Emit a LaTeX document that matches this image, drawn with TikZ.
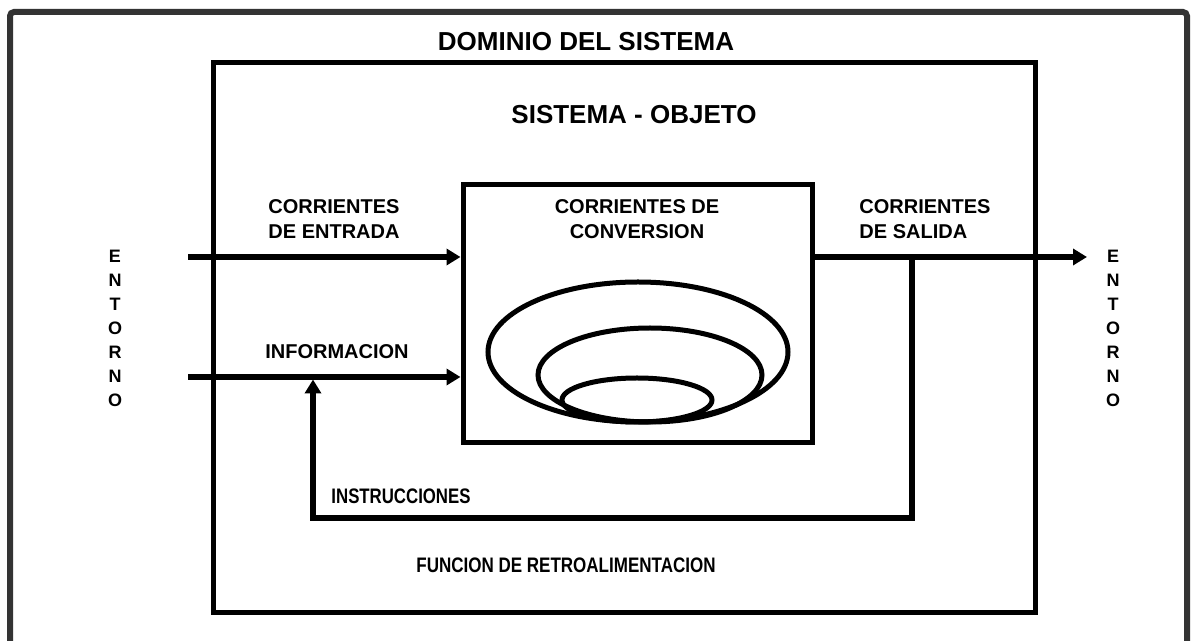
\documentclass[tikz,border=0pt]{standalone}
\usepackage{fontspec}
\setmainfont{Liberation Sans}
\usetikzlibrary{arrows.meta, positioning}
\definecolor{framegray}{RGB}{51,51,51}

\begin{document}
\begin{tikzpicture}[x=0.5pt, y=-0.5pt, line width=2.5pt,
    box/.style={draw, inner sep=0pt, line width=2.5pt},
    flow/.style={-{Triangle[length=7pt, width=8pt]}, line width=3pt},
    title/.style={font=\fontsize{13}{15}\selectfont\bfseries, inner sep=0pt},
    lbl/.style={font=\fontsize{10}{12.5}\selectfont\bfseries, align=left, inner sep=0pt},
    small/.style={font=\fontsize{10.5}{12}\selectfont\bfseries, inner sep=0pt},
    side/.style={font=\fontsize{9}{12}\selectfont\bfseries, align=center, inner sep=0pt}]
    \useasboundingbox (0,0) rectangle (1191,641);

    % outer frame
    \draw[framegray, line width=3pt, rounded corners=2pt] (10,660) -- (10,12) -- (1187,12) -- (1187,660);

    \node[box, minimum width=411pt, minimum height=275pt] (sistema) at (624,338) {};
    \node[box, minimum width=174.5pt, minimum height=129pt] (conv) at (637.5,314) {};

    \draw (638,352) ellipse [x radius=150, y radius=70];
    \draw (650,375) ellipse [x radius=112, y radius=47];
    \draw (637,400) ellipse [x radius=75, y radius=22];

    \coordinate (inA) at (188,257);
    \coordinate (inB) at (188,377);
    \coordinate (outA) at (1087,257);
    \coordinate (tap) at (912,257);
    \coordinate (fbB) at (313,518);
    \coordinate (fbTip) at (313,379.5);

    \draw[flow] (inA) -- (inA -| conv.west);
    \draw[flow] (inB) -- (inB -| conv.west);
    \draw[flow] (conv.east |- outA) -- (outA);
    \draw[flow] (tap) |- (fbB) -- (fbTip);

    \node[title] (dominio) at (586,42) {DOMINIO DEL SISTEMA};
    \node[title] (objeto) at (634,115) {SISTEMA - OBJETO};
    \node[lbl] (entrada) at (334,219) {CORRIENTES\\DE ENTRADA};
    \node[lbl, align=center] (conversion) at (637,219) {CORRIENTES DE\\CONVERSION};
    \node[lbl] (salida) at (925,219) {CORRIENTES\\DE SALIDA};
    \node[lbl] (informacion) at (337,352) {INFORMACION};
    \node[small] (instrucciones) at (401,496) {\scalebox{0.8}[1]{INSTRUCCIONES}};
    \node[small] (funcion) at (566,565) {\scalebox{0.81}[1]{FUNCION DE RETROALIMENTACION}};
    \node[side] (entornoL) at (115,328) {E\\N\\T\\O\\R\\N\\O};
    \node[side] (entornoR) at (1113,328) {E\\N\\T\\O\\R\\N\\O};
\end{tikzpicture}
\end{document}
